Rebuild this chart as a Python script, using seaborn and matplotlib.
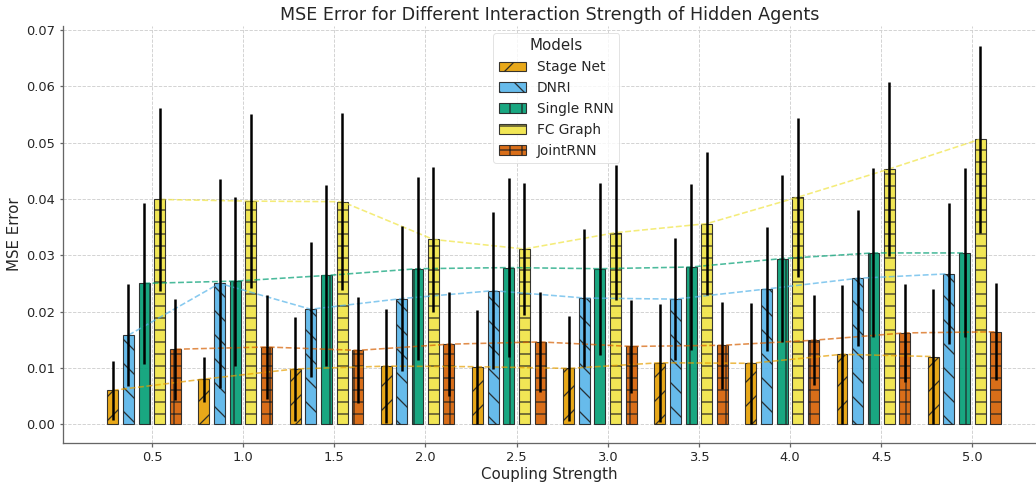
import numpy as np
import pandas as pd
import matplotlib
matplotlib.use("Agg")
import matplotlib.pyplot as plt
import seaborn as sns

# values
coupling = [0.5, 1.0, 1.5, 2.0, 2.5, 3.0, 3.5, 4.0, 4.5, 5.0]
models = ["Stage Net", "DNRI", "Single RNN", "FC Graph", "JointRNN"]

stage_net_mse = [0.0060, 0.0080, 0.0098, 0.0103, 0.0102, 0.0099, 0.0109, 0.0108, 0.0124, 0.0120]
stage_net_err = [0.0053, 0.0040, 0.0093, 0.0101, 0.0101, 0.0093, 0.0105, 0.0108, 0.0123, 0.0120]
dnri_mse = [0.0158, 0.0250, 0.0204, 0.0223, 0.0237, 0.0224, 0.0222, 0.0240, 0.0259, 0.0267]
dnri_err = [0.0091, 0.0185, 0.0120, 0.0129, 0.0139, 0.0122, 0.0108, 0.0110, 0.0121, 0.0125]
single_rnn_mse = [0.0250, 0.0254, 0.0264, 0.0276, 0.0278, 0.0276, 0.0279, 0.0294, 0.0304, 0.0304]
single_rnn_err = [0.0143, 0.0150, 0.0160, 0.0162, 0.0159, 0.0153, 0.0148, 0.0149, 0.0150, 0.0150]
fc_graph_mse = [0.0399, 0.0396, 0.0395, 0.0328, 0.0311, 0.0340, 0.0356, 0.0403, 0.0453, 0.0506]
fc_graph_err = [0.0162, 0.0155, 0.0157, 0.0128, 0.0117, 0.0120, 0.0127, 0.0141, 0.0155, 0.0166]
joint_rnn_mse = [0.0133, 0.0137, 0.0131, 0.0142, 0.0146, 0.0138, 0.0140, 0.0149, 0.0162, 0.0164]
joint_rnn_err = [0.0090, 0.0092, 0.0094, 0.0092, 0.0089, 0.0082, 0.0077, 0.0080, 0.0087, 0.0086]

mse = [stage_net_mse, dnri_mse, single_rnn_mse, fc_graph_mse, joint_rnn_mse]
err = [stage_net_err, dnri_err, single_rnn_err, fc_graph_err, joint_rnn_err]

colors = ["#E69F00", "#56B4E9", "#009E73", "#F0E442", "#D55E00"]
hatches = ["/", "\\", "|", "-", "+"]
bar_w = 0.06
step = 0.086

sns.set_theme(style="whitegrid", rc={
    "grid.linestyle": "--",
    "grid.color": "#d0d0d0",
    "grid.linewidth": 0.9,
    "axes.edgecolor": "#666666",
    "axes.linewidth": 1.3,
    "hatch.linewidth": 1.3,
})
plt.rcParams["font.family"] = ["DejaVu Sans"]

fig = plt.figure(figsize=(1036 / 72, 485 / 72), dpi=72)
ax = fig.add_axes([0.0608, 0.086, 0.9392, 0.8604])

# long table for the dashed trend lines
rows = []
for i, m in enumerate(models):
    for c, v in zip(coupling, mse[i]):
        rows.append({"model": m, "pos": c + (i - 2.5) * step, "mse": v})
df = pd.DataFrame(rows)

for i, m in enumerate(models):
    pos = np.array(coupling) + (i - 2.5) * step
    ax.bar(pos, mse[i], width=bar_w, yerr=err[i], color=colors[i], edgecolor="#222222",
           linewidth=1.1, hatch=hatches[i], alpha=0.9, label=m, zorder=2,
           error_kw=dict(ecolor="black", elinewidth=2.5, capsize=0, zorder=4))

sns.lineplot(data=df, x="pos", y="mse", hue="model", hue_order=models,
             palette=colors, linestyle="--", linewidth=1.6, alpha=0.7,
             legend=False, ax=ax, zorder=3)

ax.set_xticks(coupling)
ax.set_xticklabels([f"{c:.1f}" for c in coupling])
ax.set_xlim(0.012, 5.349)
ax.set_ylim(-0.0034, 0.0707)
ax.tick_params(axis="both", labelsize=13, length=3.5, color="#666666",
               left=True, bottom=True, pad=4)
sns.despine(ax=ax)

ax.set_title("MSE Error for Different Interaction Strength of Hidden Agents", fontsize=17.5)
ax.set_xlabel("Coupling Strength", fontsize=15, labelpad=3)
ax.set_ylabel("MSE Error", fontsize=15)

leg = ax.legend(title="Models", loc="upper center", bbox_to_anchor=(0.507, 1.0),
                fontsize=13.7, title_fontsize=15, frameon=True)
leg.get_frame().set_edgecolor("#dddddd")

fig.savefig("out.png", dpi=72)
